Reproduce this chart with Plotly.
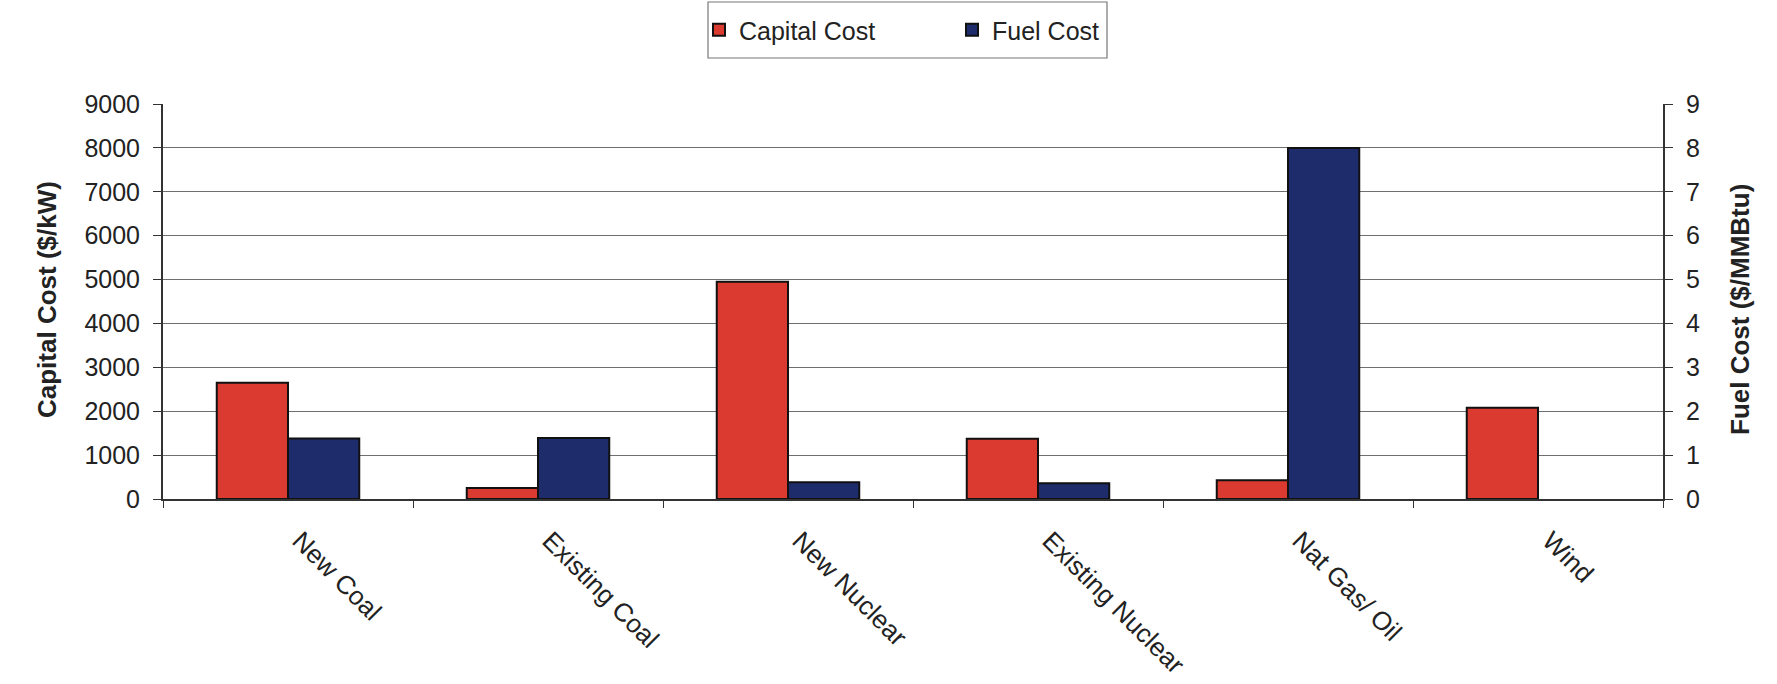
import plotly.graph_objects as go

# Cost comparison by generation technology
categories = ["New Coal", "Existing Coal", "New Nuclear", "Existing Nuclear", "Nat Gas/ Oil", "Wind"]
capital_cost = [2650, 250, 4950, 1370, 430, 2080]        # $/kW
fuel_cost = [1.38, 1.39, 0.38, 0.36, 8.0, None]           # $/MMBtu

capital_tick_vals = [0, 1000, 2000, 3000, 4000, 5000, 6000, 7000, 8000, 9000]
fuel_tick_vals = [0, 1, 2, 3, 4, 5, 6, 7, 8, 9]

RED = "#DA3A2F"
NAVY = "#1F2C6C"
FONT = "Liberation Sans, Arial, sans-serif"
TXT = "#222222"

W, H = 1777, 684
L, R, T, B = 163, 114, 104, 185

fig = go.Figure()
fig.add_trace(go.Bar(
    x=categories, y=capital_cost, name="Capital Cost",
    marker=dict(color=RED, line=dict(color="#111111", width=2)),
    offsetgroup="capital", yaxis="y",
))
fig.add_trace(go.Bar(
    x=categories, y=fuel_cost, name="Fuel Cost",
    marker=dict(color=NAVY, line=dict(color="#111111", width=2)),
    offsetgroup="fuel", yaxis="y2",
))

pw = W - L - R
ph = H - T - B

def px_x(p):
    return (p - L) / pw

def px_y(p):
    return (H - B - p) / ph

# Legend frame
fig.add_shape(type="rect", xref="paper", yref="paper",
              x0=px_x(708), x1=px_x(1107), y0=px_y(58), y1=px_y(2),
              line=dict(color="#777777", width=1.2), fillcolor="white", layer="below")

fig.update_layout(
    width=W, height=H,
    margin=dict(l=L, r=R, t=T, b=B, autoexpand=False),
    paper_bgcolor="white", plot_bgcolor="white",
    font=dict(family=FONT, size=24, color=TXT),
    barmode="group", bargap=0.43, bargroupgap=0.0,
    showlegend=True,
    legend=dict(
        orientation="h", xref="container", yref="container",
        x=699 / W, xanchor="left", y=1 - 30 / H, yanchor="middle",
        font=dict(size=25, family=FONT, color=TXT),
        entrywidth=208, entrywidthmode="pixels",
        bgcolor="rgba(0,0,0,0)", borderwidth=0,
    ),
    xaxis=dict(
        type="category", tickangle=45, tickson="boundaries",
        ticks="outside", ticklen=7, tickcolor="#333333",
        showline=True, linecolor="#333333", linewidth=2,
        showgrid=False, tickfont=dict(size=26, family=FONT, color=TXT),
        ticklabelstandoff=14, ticklabelshift=12,
    ),
    yaxis=dict(
        range=[0, 9000], tickvals=capital_tick_vals,
        ticks="outside", ticklen=8, tickcolor="#333333",
        showline=True, linecolor="#333333", linewidth=2,
        showgrid=True, gridcolor="#6f6f6f", gridwidth=1.3,
        zeroline=False, ticklabelstandoff=8,
        tickfont=dict(size=25, family=FONT, color=TXT),
    ),
    yaxis2=dict(
        range=[0, 9], tickvals=fuel_tick_vals, overlaying="y", side="right",
        ticks="outside", ticklen=8, tickcolor="#333333",
        showline=True, linecolor="#333333", linewidth=2,
        showgrid=False, zeroline=False, ticklabelstandoff=8,
        tickfont=dict(size=25, family=FONT, color=TXT),
    ),
)

# Axis titles
fig.add_annotation(text="<b>Capital Cost ($/kW)</b>", xref="paper", yref="paper",
                   x=px_x(30), y=px_y(300), textangle=-90, showarrow=False,
                   font=dict(size=26, family=FONT, color=TXT))
fig.add_annotation(text="<b>Fuel Cost ($/MMBtu)</b>", xref="paper", yref="paper",
                   x=px_x(1757), y=px_y(310), textangle=-90, showarrow=False,
                   font=dict(size=26, family=FONT, color=TXT))

fig.write_html("out.html")
